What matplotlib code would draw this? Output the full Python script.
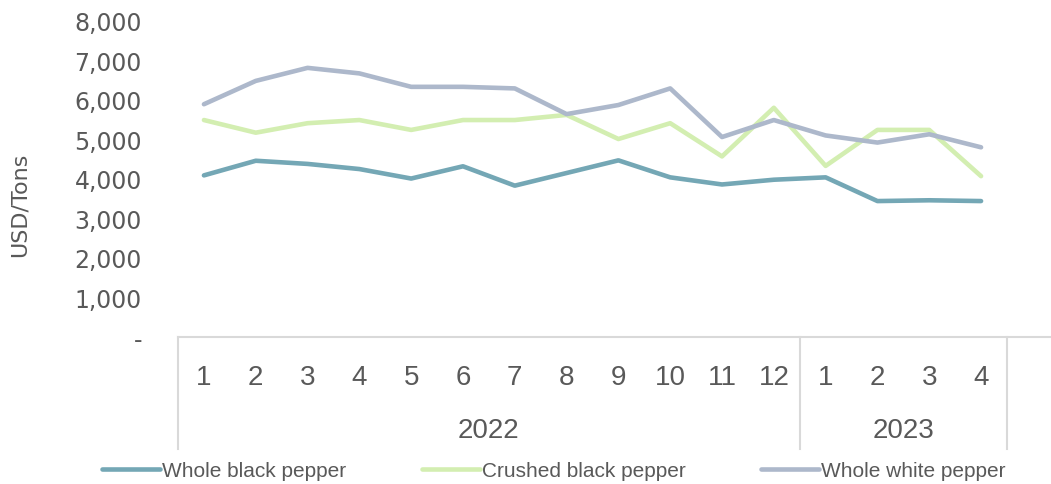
import numpy as np
import matplotlib.pyplot as plt
from matplotlib.transforms import blended_transform_factory

# Datos (USD/Tons), ene-2022 a abr-2023
months = ["1", "2", "3", "4", "5", "6", "7", "8", "9", "10", "11", "12", "1", "2", "3", "4"]
years = ["2022", "2023"]
year_sizes = [12, 4]
whole_black = [4090, 4460, 4380, 4250, 4010, 4320, 3830, 4150, 4470, 4040, 3860, 3980, 4040, 3440, 3460, 3440]
crushed_black = [5490, 5170, 5410, 5490, 5240, 5490, 5490, 5620, 5010, 5410, 4570, 5800, 4330, 5240, 5240, 4070]
whole_white = [5890, 6480, 6810, 6670, 6330, 6330, 6290, 5640, 5870, 6290, 5060, 5490, 5100, 4920, 5130, 4800]

txt = "#595959"
grid_c = "#D9D9D9"
cat_font = ["Liberation Sans", "DejaVu Sans"]

fig = plt.figure(figsize=(10.51, 4.85), dpi=100)
ax = fig.add_axes([0.1694, 0.303, 0.8306, 0.652])

x = np.arange(len(months))
ax.plot(x, whole_black, color="#74A7B5", lw=3.3, solid_capstyle="round", solid_joinstyle="round", label="Whole black pepper")
ax.plot(x, crushed_black, color="#D3EEB1", lw=3.3, solid_capstyle="round", solid_joinstyle="round", label="Crushed black pepper")
ax.plot(x, whole_white, color="#ADB8CB", lw=3.3, solid_capstyle="round", solid_joinstyle="round", label="Whole white pepper")

ax.set_xlim(-0.5, 16.35)
ax.set_ylim(0, 8000)
ax.set_yticks(np.arange(0, 8001, 1000))
ax.set_yticklabels(["-"] + [f"{v:,}" for v in range(1000, 8001, 1000)])
ax.tick_params(axis="y", length=0, pad=26, labelsize=17, labelcolor=txt)
ax.set_xticks([])
for s in ["top", "right", "left"]:
    ax.spines[s].set_visible(False)
ax.spines["bottom"].set_color(grid_c)
ax.spines["bottom"].set_linewidth(1.5)
ax.set_ylabel("USD/Tons", fontsize=16, color=txt)
ax.yaxis.set_label_coords(-0.17, 0.42)

# Etiquetas de categorías en dos niveles
tr = blended_transform_factory(ax.transData, ax.transAxes)
for i, m in enumerate(months):
    ax.text(i, -0.125, m, transform=tr, ha="center", va="center", fontsize=20, color=txt, family=cat_font)
start = -0.5
seps = [start]
for y, n in zip(years, year_sizes):
    ax.text(start + n / 2, -0.295, y, transform=tr, ha="center", va="center", fontsize=20, color=txt, family=cat_font)
    start += n
    seps.append(start)
for s in seps:
    ax.plot([s, s], [0, -0.355], transform=tr, color=grid_c, lw=1.5, clip_on=False)

fig.legend(loc="center", bbox_to_anchor=(0.527, 0.028), ncol=3, frameon=False,
           prop={"family": cat_font, "size": 15}, labelcolor=txt,
           handlelength=2.8, handletextpad=0.1, columnspacing=3.6)

fig.savefig("out.png", dpi=100)
